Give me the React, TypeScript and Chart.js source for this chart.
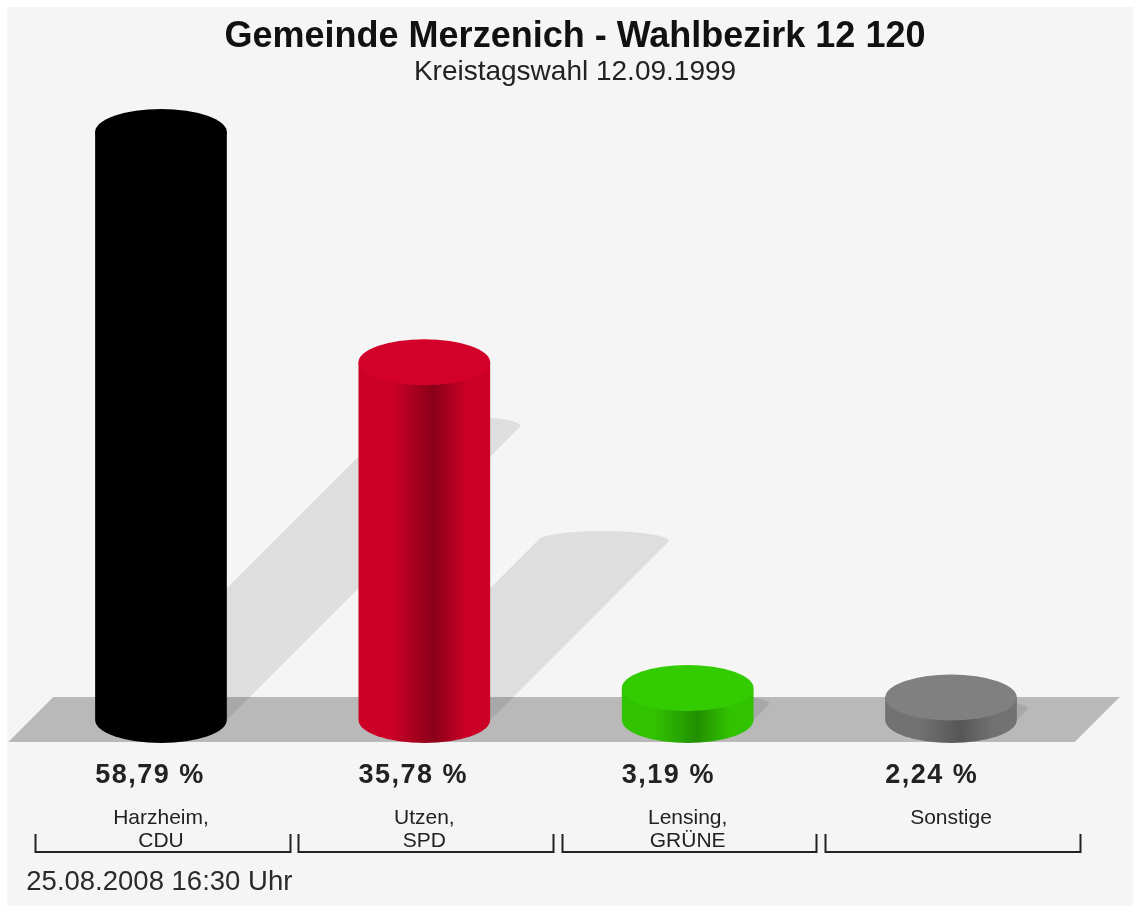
import React, { useEffect, useRef } from 'react';
import { Chart, registerables } from 'chart.js';

Chart.register(...registerables);

const chartTitle = 'Gemeinde Merzenich - Wahlbezirk 12 120';
const chartSubtitle = 'Kreistagswahl 12.09.1999';
const categories: string[][] = [['Harzheim,', 'CDU'], ['Utzen,', 'SPD'], ['Lensing,', 'GRÜNE'], ['Sonstige']];
const values = [58.79, 35.78, 3.19, 2.24];
const valueLabels = ['58,79 %', '35,78 %', '3,19 %', '2,24 %'];
const timestamp = '25.08.2008 16:30 Uhr';

// styles
const topColors = ['#000000', '#d3002a', '#33cc00', '#808080'];
const lightColors = ['#000000', '#cc0027', '#31c200', '#727272'];
const darkColors = ['#000000', '#8a0018', '#228f00', '#565656'];
const FONT = '"Liberation Sans", Arial, Helvetica, sans-serif';
const RY = 23;

function shadowPath(ctx: CanvasRenderingContext2D, cx: number, rx: number, top: number, base: number) {
  const s = (base - top) * 0.5;
  ctx.beginPath();
  ctx.moveTo(cx - rx, base);
  ctx.lineTo(cx - rx + s, base - s);
  ctx.ellipse(cx + s, base - s, rx, 10, 0, Math.PI, 2 * Math.PI, false);
  ctx.lineTo(cx + rx, base);
  ctx.closePath();
}

function floorPath(ctx: CanvasRenderingContext2D, ca: any) {
  const b = ca.bottom;
  ctx.beginPath();
  ctx.moveTo(ca.left - 21, b + 22);
  ctx.lineTo(ca.left + 24, b - 23);
  ctx.lineTo(ca.right + 37, b - 23);
  ctx.lineTo(ca.right - 8, b + 22);
  ctx.closePath();
}

const cylPlugin = {
  id: 'cyl3d',
  beforeDraw(chart: any) {
    const { ctx, width, height } = chart;
    ctx.save();
    ctx.fillStyle = '#ffffff';
    ctx.fillRect(0, 0, width, height);
    ctx.fillStyle = '#f5f5f5';
    ctx.fillRect(7, 7, width - 7, height - 7);
    ctx.restore();
  },
  beforeDatasetsDraw(chart: any) {
    const { ctx, chartArea: ca } = chart;
    const meta = chart.getDatasetMeta(0);
    ctx.save();
    // wall shadows
    ctx.fillStyle = '#dedede';
    meta.data.forEach((el: any) => {
      const p = el.getProps(['x', 'y', 'base', 'width'], true);
      shadowPath(ctx, p.x, p.width / 2, p.y, p.base);
      ctx.fill();
    });
    // floor
    ctx.fillStyle = '#b9b9b9';
    floorPath(ctx, ca);
    ctx.fill();
    // shadows on floor
    floorPath(ctx, ca);
    ctx.clip();
    ctx.fillStyle = 'rgba(0,0,0,0.09)';
    meta.data.forEach((el: any) => {
      const p = el.getProps(['x', 'y', 'base', 'width'], true);
      shadowPath(ctx, p.x, p.width / 2, p.y, p.base);
      ctx.fill();
    });
    ctx.restore();
  },
  afterDatasetsDraw(chart: any) {
    const { ctx } = chart;
    const meta = chart.getDatasetMeta(0);
    ctx.save();
    meta.data.forEach((el: any, i: number) => {
      const p = el.getProps(['x', 'y', 'base', 'width'], true);
      const rx = p.width / 2;
      const l = p.x - rx;
      const r = p.x + rx;
      const g = ctx.createLinearGradient(l, 0, r, 0);
      g.addColorStop(0, lightColors[i]);
      g.addColorStop(0.25, lightColors[i]);
      g.addColorStop(0.57, darkColors[i]);
      g.addColorStop(0.82, lightColors[i]);
      g.addColorStop(1, lightColors[i]);
      ctx.fillStyle = g;
      ctx.beginPath();
      ctx.moveTo(l, p.y);
      ctx.lineTo(l, p.base);
      ctx.ellipse(p.x, p.base, rx, RY, 0, Math.PI, 0, true);
      ctx.lineTo(r, p.y);
      ctx.closePath();
      ctx.fill();
      ctx.fillStyle = topColors[i];
      ctx.beginPath();
      ctx.ellipse(p.x, p.y, rx, RY, 0, 0, 2 * Math.PI);
      ctx.fill();
    });
    ctx.restore();
  },
  afterDraw(chart: any) {
    const { ctx, chartArea: ca } = chart;
    const meta = chart.getDatasetMeta(0);
    const base = ca.bottom;
    ctx.save();
    ctx.fillStyle = '#222222';
    ctx.textBaseline = 'alphabetic';
    // value labels
    ctx.font = `bold 27px ${FONT}`;
    (ctx as any).letterSpacing = '1.5px';
    ctx.textAlign = 'left';
    meta.data.forEach((el: any, i: number) => {
      const p = el.getProps(['x', 'width'], true);
      ctx.fillText(valueLabels[i], p.x - p.width / 2, base + 63);
    });
    (ctx as any).letterSpacing = '0px';
    // category labels
    ctx.font = `21px ${FONT}`;
    ctx.textAlign = 'center';
    meta.data.forEach((el: any, i: number) => {
      const p = el.getProps(['x'], true);
      categories[i].forEach((line, j) => ctx.fillText(line, p.x, base + 104 + j * 23));
    });
    // brackets
    const n = categories.length;
    const cw = (ca.right - ca.left) / n;
    ctx.strokeStyle = '#222222';
    ctx.lineWidth = 2;
    for (let i = 0; i < n; i++) {
      const l = Math.round(ca.left + i * cw + 5.5) + 0.5;
      const r = Math.round(ca.left + (i + 1) * cw - 3) + 0.5;
      ctx.beginPath();
      ctx.moveTo(l, base + 114);
      ctx.lineTo(l, base + 132);
      ctx.lineTo(r, base + 132);
      ctx.lineTo(r, base + 114);
      ctx.stroke();
    }
    // timestamp
    ctx.font = `27.5px ${FONT}`;
    ctx.textAlign = 'left';
    ctx.fillStyle = '#2a2a2a';
    ctx.fillText(timestamp, ca.left - 3, base + 170);
    ctx.restore();
  },
};

export default function App() {
  const ref = useRef<HTMLCanvasElement>(null);
  useEffect(() => {
    document.body.style.margin = '0';
    const canvas = ref.current!;
    const chart = new Chart(canvas, {
      type: 'bar',
      data: {
        labels: categories,
        datasets: [
          {
            data: values,
            backgroundColor: 'rgba(0,0,0,0)',
            borderWidth: 0,
            barPercentage: 0.5,
            categoryPercentage: 1,
          },
        ],
      },
      options: {
        responsive: false,
        animation: false,
        events: [],
        layout: { padding: { left: 29.3, right: 12.3, top: 0, bottom: 186 } },
        plugins: {
          legend: { display: false },
          tooltip: { enabled: false },
          title: {
            display: true,
            text: chartTitle,
            color: '#111111',
            font: { family: FONT, size: 36, weight: 'bold', lineHeight: 1.2 },
            padding: { top: 15, bottom: 0 },
          },
          subtitle: {
            display: true,
            text: chartSubtitle,
            color: '#222222',
            font: { family: FONT, size: 28, weight: 'normal', lineHeight: 1.0 },
            padding: { top: 0, bottom: 33.8 },
          },
        },
        scales: {
          x: { display: false },
          y: {
            position: 'right',
            min: 0,
            max: 60,
            display: true,
            grid: { display: false },
            border: { display: false },
            ticks: { display: false },
            afterFit: (scale: any) => {
              scale.width = 38;
            },
          },
        },
      },
      plugins: [cylPlugin],
    } as any);
    return () => chart.destroy();
  }, []);
  return <canvas ref={ref} width={1133} height={906} style={{ display: 'block' }} />;
}
